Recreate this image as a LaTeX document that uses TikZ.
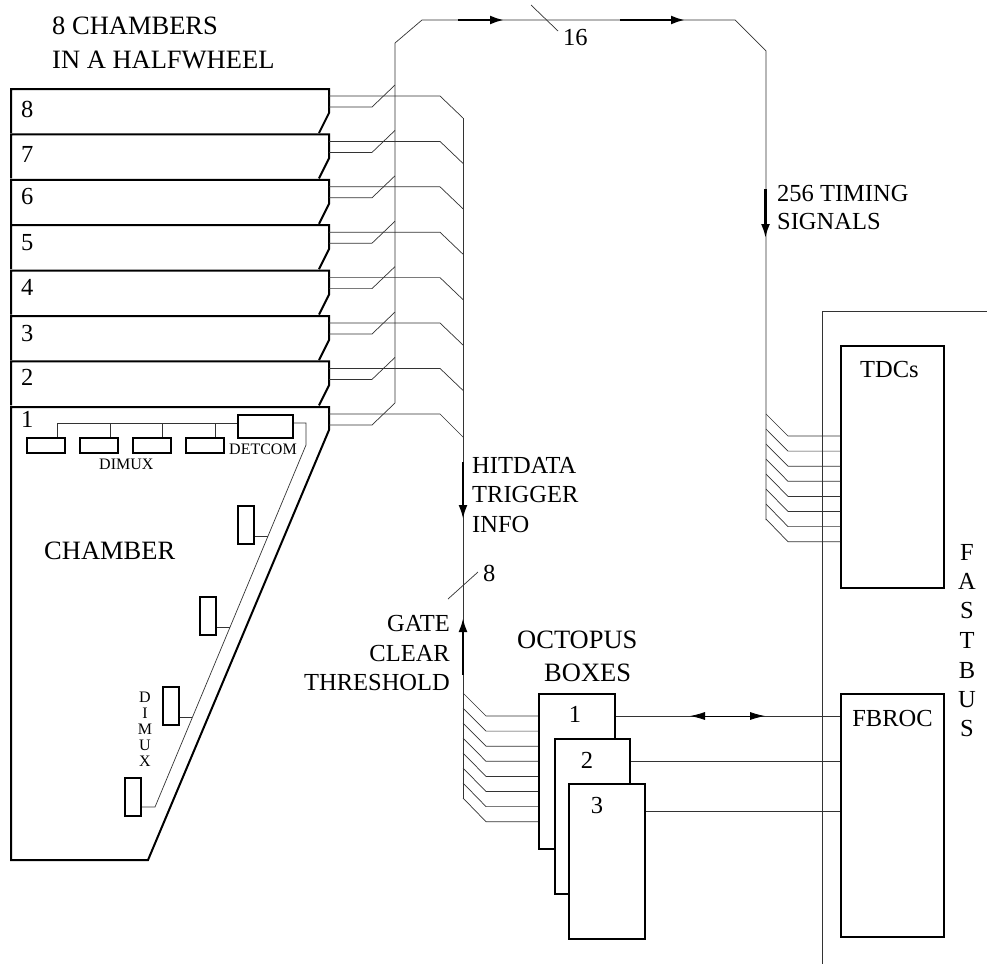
\documentclass[tikz,border=0pt]{standalone}
\usepackage{fontspec}
\setmainfont{Liberation Serif}
\usetikzlibrary{arrows.meta}
\tikzset{
  thin wire/.style={line width=0.7pt,black!80},
  heavy/.style={line width=2pt,black,line join=miter},
  boxy/.style={heavy,fill=white},
  big/.style={font=\fontsize{24.5}{27}\selectfont,inner sep=0pt,anchor=base west},
  bigr/.style={big,anchor=base east},
  bigc/.style={big,anchor=base},
  huge/.style={font=\fontsize{26.5}{28}\selectfont,inner sep=0pt,anchor=base west},
  small/.style={font=\fontsize{16}{17}\selectfont,inner sep=0pt,anchor=base west},
  smallc/.style={small,anchor=base},
  arr/.style={line width=2.4pt,-{Latex[length=14pt,width=9pt]}}
}
\begin{document}
\begin{tikzpicture}[x=1pt,y=-1pt]
\useasboundingbox (0,0) rectangle (987,964);
\fill[white] (0,0) rectangle (987,964);
% chambers
\foreach \n/\t/\b in {8/89/117,7/134.4/162,6/179.8/204,5/225.2/250,4/270.6/295,3/316/341,2/361.4/385}{
  \draw[heavy] (11,\t+44) -- (11,\t) -- (329,\t) -- (329,\t+24) -- (319,\t+44);
  \node[big] (ch\n) at (21,\b) {\n};
  \draw[thin wire] (329,\t+7) -- (440,\t+7) -- (463,\t+29);
  \draw[thin wire] (329,\t+18) -- (372,\t+18) -- (395,\t-4);
}
\draw[heavy] (11,860) -- (11,407) -- (329,407) -- (329,430) -- (148,860) -- cycle;
\node[big] (ch1) at (21,427) {1};
\coordinate (a1) at (329,414);
\coordinate (a2) at (440,414);
\coordinate (a3) at (463,437);
\coordinate (b1) at (329,425);
\coordinate (b2) at (372,425);
\coordinate (b3) at (395,403);
\draw[thin wire] (a1) -- (a2) -- (a3);
\draw[thin wire] (b1) -- (b2) -- (b3);
% timing bus
\coordinate (t0) at (395,403);
\coordinate (t1) at (395,43);
\coordinate (t2) at (422,20);
\coordinate (t3) at (735,20);
\coordinate (t4) at (766,51);
\coordinate (t5) at (766,520);
\draw[thin wire] (t0) -- (t1) -- (t2) -- (t3) -- (t4) -- (t5);
\coordinate (p1) at (531,5);
\coordinate (p2) at (558,31);
\draw[thin wire] (p1) -- (p2);
\node[big] (n16) at (563,45) {16};
\coordinate (h1) at (458,20);\coordinate (h2) at (504,20);
\coordinate (h3) at (620,20);\coordinate (h4) at (685,20);
\draw[arr] (h1) -- (h2);
\draw[arr] (h3) -- (h4);
\coordinate (v1) at (765.5,189);\coordinate (v2) at (765.5,238);
\draw[arr] (v1) -- (v2);
% hit bus
\coordinate (u0) at (463,118);
\coordinate (u1) at (463,799);
\draw[thin wire] (u0) -- (u1);
\coordinate (q1) at (448,599);
\coordinate (q2) at (478,572);
\draw[thin wire] (q1) -- (q2);
\node[big] (n8) at (483,581) {8};
\coordinate (d1) at (463,462);\coordinate (d2) at (463,519);
\draw[arr] (d1) -- (d2);
\coordinate (e1) at (463,675);\coordinate (e2) at (463,618);
\draw[arr] (e1) -- (e2);
% fastbus frame
\coordinate (f1) at (987,311);\coordinate (f2) at (822,311);\coordinate (f3) at (822,964);
\draw[thin wire] (f1) -- (f2) -- (f3);
% TDC and FBROC
\node[boxy,draw,minimum width=103pt,minimum height=242pt,inner sep=0pt,anchor=north west] (tdc) at (840,345) {};
\node[boxy,draw,minimum width=103pt,minimum height=243pt,inner sep=0pt,anchor=north west] (fb) at (840,693) {};
\foreach \i in {0,...,7}{
  \draw[thin wire] (766,414+15*\i) -- (788,436+15.1*\i) -- (840,436+15.1*\i);
  \draw[thin wire] (463,693+15*\i) -- (486,716+15.1*\i) -- (538,716+15.1*\i);
}
% octopus boxes
\node[boxy,draw,minimum width=76pt,minimum height=155pt,inner sep=0pt,anchor=north west] (o1) at (538,693) {};
\node[boxy,draw,minimum width=75pt,minimum height=155pt,inner sep=0pt,anchor=north west] (o2) at (554,738) {};
\node[boxy,draw,minimum width=76pt,minimum height=155pt,inner sep=0pt,anchor=north west] (o3) at (568,783) {};
\node[bigc] (l1) at (575,722) {1};
\node[bigc] (l2) at (587,768) {2};
\node[bigc] (l3) at (597,813) {3};
\coordinate (oo1) at (840,716);\coordinate (oo2) at (840,761);\coordinate (oo3) at (840,811);
\draw[thin wire] (o1.north east |- oo1) -- (oo1);
\draw[thin wire] (o2.north east |- oo2) -- (oo2);
\draw[thin wire] (o3.north east |- oo3) -- (oo3);
\coordinate (g1) at (690,716);\coordinate (g2) at (765,716);
\draw[line width=0.8pt,black,{Latex[length=15pt,width=8pt]}-{Latex[length=15pt,width=8pt]}] (g1) -- (g2);
% inside chamber 1
\node[boxy,draw,minimum width=55pt,minimum height=23pt,inner sep=0pt,anchor=north west] (det) at (237,414) {};
\foreach \x/\m in {26/a,79/b,132/c,185/d}{
  \node[boxy,draw,minimum width=38pt,minimum height=15pt,inner sep=0pt,anchor=north west] (dx\m) at (\x,437) {};
}
\coordinate (r0) at (57,423);
\draw[thin wire] (dxa.north -| r0) -- (r0) -- (det.west |- r0);
\coordinate (r1) at (110,423);\draw[thin wire] (r1) -- (r1 |- dxb.north);
\coordinate (r2) at (162.5,423);\draw[thin wire] (r2) -- (r2 |- dxc.north);
\coordinate (r3) at (215,423);\draw[thin wire] (r3) -- (r3 |- dxd.north);
\foreach \x/\y/\m in {124/777/e,162/686/f,199/596/g,237/505/h}{
  \node[boxy,draw,minimum width=16pt,minimum height=38pt,inner sep=0pt,anchor=north west] (dx\m) at (\x,\y) {};
}
\coordinate (w1) at (306,423);\coordinate (w2) at (306,445);\coordinate (w3) at (155,807);
\draw[thin wire] (det.east |- w1) -- (w1) -- (w2) -- (w3) -- (dxe.east |- w3);
\coordinate (s1) at (192,717);\draw[thin wire] (dxf.east |- s1) -- (s1);
\coordinate (s2) at (230,627);\draw[thin wire] (dxg.east |- s2) -- (s2);
\coordinate (s3) at (268,536);\draw[thin wire] (dxh.east |- s3) -- (s3);
% texts
\node[huge] (ti1) at (52,34) {8 CHAMBERS};
\node[huge] (ti2) at (52,68) {IN A HALFWHEEL};
\node[huge] (cham) at (44,559) {CHAMBER};
\node[small] (dt) at (229,454) {DETCOM};
\node[small] (dm) at (99,469) {DIMUX};
\foreach \c/\y in {D/702,I/718,M/734,U/750,X/766}{\node[smallc] (dv\c) at (145,\y) {\c};}
\node[big] (tm1) at (777,201) {256 TIMING};
\node[big] (tm2) at (777,229) {SIGNALS};
\node[big] (ht1) at (472,473) {HITDATA};
\node[big] (ht2) at (472,502) {TRIGGER};
\node[big] (ht3) at (472,532) {INFO};
\node[bigr] (gt1) at (450,631) {GATE};
\node[bigr] (gt2) at (450,661) {CLEAR};
\node[bigr] (gt3) at (450,690) {THRESHOLD};
\node[huge] (oc1) at (517,648) {OCTOPUS};
\node[huge] (oc2) at (544,681) {BOXES};
\node[bigc] (tl) at (889.5,377) {TDCs};
\node[bigc] (fl) at (892.5,726) {FBROC};
\foreach \c/\y/\k in {F/560/a,A/589/b,S/618/c,T/648/d,B/678/e,U/707/f,S/736/g}{\node[bigc] (fs\k) at (967,\y) {\c};}
\end{tikzpicture}
\end{document}
